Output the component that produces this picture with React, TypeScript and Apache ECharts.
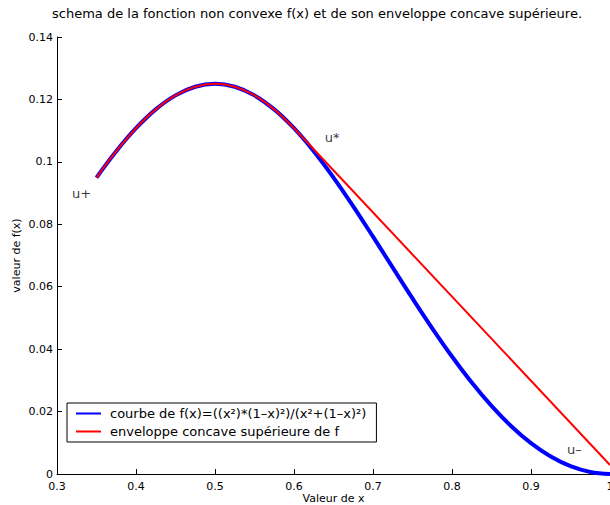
import { useEffect, useRef } from "react";
import * as echarts from "echarts";

// Sample points of f(x) = x²(1−x)² / (x² + (1−x)²) on [0.35, 1]
const xValues = [
  0.35, 0.375, 0.4, 0.425, 0.45, 0.475, 0.5, 0.525, 0.55, 0.575, 0.6, 0.625, 0.65, 0.675,
  0.7, 0.725, 0.75, 0.775, 0.8, 0.825, 0.85, 0.875, 0.9, 0.925, 0.95, 0.975, 1.0,
];
const fValues = [
  0.094966, 0.103401, 0.110769, 0.116809, 0.121299, 0.124066, 0.125, 0.124066, 0.121299,
  0.116809, 0.110769, 0.103401, 0.094966, 0.085746, 0.076034, 0.066112, 0.05625, 0.04669,
  0.037647, 0.029306, 0.02182, 0.015313, 0.009878, 0.005588, 0.002493, 0.000625, 0,
];

// Upper concave envelope: follows f up to u*, then the tangent segment
const envelopeCurveX = [0.35, 0.375, 0.4, 0.425, 0.45, 0.475, 0.5, 0.525, 0.55, 0.575, 0.6];
const envelopeCurveY = [
  0.094966, 0.103401, 0.110769, 0.116809, 0.121299, 0.124066, 0.125, 0.124066, 0.121299,
  0.116809, 0.110769,
];
const tangentX = [0.6, 1.0];
const tangentY = [0.110769, 0.0029];

// Point annotations
const annotationText = ["u+", "u*", "u–"];
const annotationX = [0.319, 0.639, 0.9455];
const annotationY = [0.0899, 0.1077, 0.0077];

const yTickLabels = ["0", "0.02", "0.04", "0.06", "0.08", "0.1", "0.12", "0.14"];
const xTickLabels = ["0.3", "0.4", "0.5", "0.6", "0.7", "0.8", "0.9", "1"];

const curveName = "courbe de f(x)=((x²)*(1–x)²)/(x²+(1–x)²)";
const envelopeName = "enveloppe concave supérieure de f";
const titleText =
  "schema de la fonction non convexe f(x) et de son enveloppe concave supérieure.";

const FONT = "DejaVu Sans";

const zip = (xs: number[], ys: number[]) => xs.map((x, i) => [x, ys[i]]);

export default function App() {
  const ref = useRef<HTMLDivElement>(null);

  useEffect(() => {
    if (!ref.current) return;
    const chart = echarts.init(ref.current, null, { renderer: "svg" });

    chart.setOption({
      animation: false,
      backgroundColor: "#fff",
      textStyle: { fontFamily: FONT, color: "#000" },
      title: {
        text: titleText,
        left: 312,
        top: 2,
        textAlign: "center",
        textStyle: { fontFamily: FONT, fontSize: 13, fontWeight: "normal", color: "#000" },
      },
      grid: {
        left: 57,
        right: 0,
        top: 37,
        bottom: 31,
        containLabel: false,
        outerBoundsMode: "none",
      },
      xAxis: {
        type: "value",
        min: 0.3,
        max: 1,
        interval: 0.1,
        name: "Valeur de x",
        nameLocation: "middle",
        nameGap: 19,
        nameMoveOverlap: false,
        nameTextStyle: { fontFamily: FONT, fontSize: 11, color: "#000" },
        axisLine: { lineStyle: { color: "#000", width: 1 } },
        axisTick: { inside: true, length: 5, lineStyle: { color: "#000" } },
        axisLabel: {
          fontFamily: FONT,
          fontSize: 11,
          color: "#000",
          margin: 7,
          showMaxLabel: true,
          formatter: (v: number) => xTickLabels[Math.round((v - 0.3) * 10)] ?? "",
        },
        splitLine: { show: false },
      },
      yAxis: {
        type: "value",
        min: 0,
        max: 0.14,
        interval: 0.02,
        name: "valeur de f(x)",
        nameLocation: "middle",
        nameGap: 35,
        nameMoveOverlap: false,
        nameTextStyle: { fontFamily: FONT, fontSize: 11, color: "#000" },
        axisLine: { show: true, lineStyle: { color: "#000", width: 1 } },
        axisTick: { show: true, inside: true, length: 5, lineStyle: { color: "#000" } },
        axisLabel: {
          fontFamily: FONT,
          fontSize: 11,
          color: "#000",
          margin: 4,
          formatter: (v: number) => yTickLabels[Math.round(v / 0.02)] ?? "",
        },
        splitLine: { show: false },
      },
      legend: {
        orient: "vertical",
        left: 67,
        top: 403,
        data: [curveName, envelopeName],
        backgroundColor: "#fff",
        borderColor: "#000",
        borderWidth: 1,
        borderRadius: 0,
        padding: [4, 10, 4, 8],
        itemGap: 5,
        itemWidth: 25,
        itemHeight: 14,
        selectedMode: false,
        itemStyle: { opacity: 0 },
        textStyle: { fontFamily: FONT, fontSize: 13, color: "#000", padding: [0, 0, 0, 4] },
      },
      series: [
        {
          name: curveName,
          type: "line",
          data: zip(xValues, fValues),
          smooth: 0.4,
          symbol: "none",
          lineStyle: { color: "#0000ff", width: 4 },
          itemStyle: { color: "#0000ff" },
          z: 2,
        },
        {
          name: envelopeName,
          type: "line",
          data: zip(envelopeCurveX, envelopeCurveY),
          smooth: 0.4,
          symbol: "none",
          lineStyle: { color: "#ff0000", width: 2 },
          itemStyle: { color: "#ff0000" },
          z: 3,
        },
        {
          name: envelopeName,
          type: "line",
          data: zip(tangentX, tangentY),
          symbol: "none",
          lineStyle: { color: "#ff0000", width: 2 },
          itemStyle: { color: "#ff0000" },
          z: 3,
        },
        {
          name: "annotations",
          type: "scatter",
          symbolSize: 0,
          data: annotationX.map((x, i) => [x, annotationY[i], annotationText[i]]),
          label: {
            show: true,
            position: "right",
            distance: 0,
            fontFamily: FONT,
            fontSize: 13,
            color: "#000",
            formatter: (p: any) => p.data[2],
          },
          z: 4,
        },
      ],
    });

    return () => chart.dispose();
  }, []);

  return (
    <div
      ref={ref}
      style={{ position: "fixed", left: 0, top: 0, width: 610, height: 505 }}
    />
  );
}
